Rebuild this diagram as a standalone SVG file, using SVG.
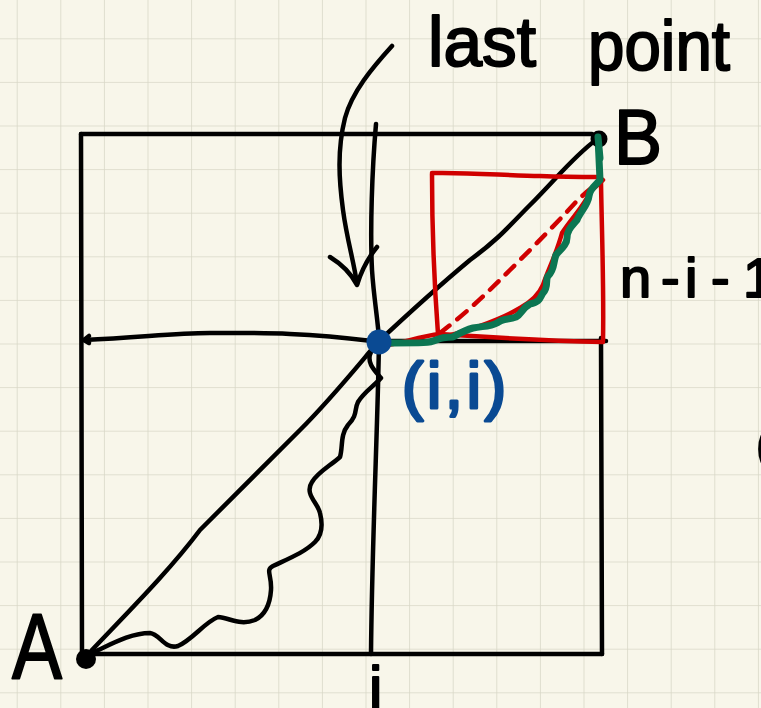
<svg xmlns="http://www.w3.org/2000/svg" width="761" height="708" viewBox="0 0 761 708">
<defs>
<pattern id="grid" x="16.7" y="38.3" width="43.6" height="43.6" patternUnits="userSpaceOnUse">
<path d="M0,0 H43.6 M0,0 V43.6" fill="none" stroke="#d9d7c7" stroke-width="1.6"/>
</pattern>
<style>
.ink{fill:none;stroke:#000;stroke-width:4.5;stroke-linecap:round;stroke-linejoin:round}
.red{fill:none;stroke:#d00000;stroke-width:4.5;stroke-linecap:round;stroke-linejoin:round}
.grn{fill:none;stroke:#0c7652;stroke-width:7;stroke-linecap:round;stroke-linejoin:round}
.hand{font-family:"Liberation Sans",Arial,sans-serif;fill:#000;stroke:#000;stroke-width:2;stroke-linejoin:round}
.blue{font-family:"Liberation Sans",Arial,sans-serif;fill:#0a4a93;stroke:#0a4a93;stroke-width:3;stroke-linejoin:round}
</style>
</defs>
<rect width="761" height="708" fill="#f8f6ea"/>
<rect width="761" height="708" fill="url(#grid)"/>

<g id="frame">
<path class="ink" d="M81,134 H592"/>
<path class="ink" d="M81,134 L82,658"/>
<path class="ink" d="M86,654 H602"/>
<path class="ink" d="M601,338 L602,654"/>
<path class="ink" d="M84,340 C140,338 170,333 210,333 C260,333 300,332 372,341"/>
<path class="ink" d="M89,336 L84,340 L89,343"/>
<path class="ink" d="M380,341 H606"/>
<path class="ink" d="M376,124 C372,170 370,230 372,270 C374,300 378,320 379,340 C378,420 372,540 371,654"/>
</g>

<g id="diagonal">
<path class="ink" d="M92,650 C130,610 170,570 200,530 C240,490 270,460 300,430 C330,400 350,375 378,342 C410,312 440,285 470,260 C500,238 510,225 530,205 C555,180 575,155 596,140"/>
</g>

<g id="wavy-black">
<path class="ink" stroke-width="4" d="M371,352 C366,362 374,370 381,378 C374,386 364,392 358,402 C354,410 358,415 348,425 C340,435 343,447 340,457 C330,466 318,472 312,482 C304,494 318,503 320,513 C323,525 322,535 315,542 C305,552 290,558 273,566 C265,570 272,575 271,590 C270,605 265,615 255,620 C240,626 230,618 218,617 C205,622 192,640 178,646 C165,650 160,634 150,633 C130,633 110,645 92,653"/>
</g>

<g id="red-box">
<path class="red" d="M432,173 C470,172 510,176 540,176 C565,177 585,177 600,177"/>
<path class="red" d="M601,182 C602,240 604,290 603,341"/>
<path class="red" d="M603,342 C560,341 500,338 440,334 C420,336 400,344 387,345"/>
<path class="red" d="M432,174 C432,230 434,280 438,334"/>
<path class="red" stroke-width="3" stroke-dasharray="12 10" d="M440,333 C470,310 490,290 510,270 C535,245 555,225 575,203 C585,193 592,187 600,182"/>
<path class="red" stroke-width="5" d="M440,338 C470,330 500,320 520,308 C535,300 540,292 543,285 C548,270 556,255 562,233 C570,220 585,205 590,192 C596,186 600,183 603,180"/>
</g>

<g id="green-path">
<path class="grn" d="M598,137 L600,180 C596,185 590,188 589,196 C588,205 580,212 577,220 C572,226 567,230 567,238 C567,245 560,250 556,255 C553,262 555,270 548,276 C545,280 549,287 543,293 C540,297 541,302 530,304 C522,308 522,314 516,317 C508,320 503,318 497,323 C490,327 482,326 473,328 C465,330 460,333 453,337 C446,337 440,338 436,340 C430,343 425,343 386,343"/>
</g>

<g id="dots">
<circle cx="599" cy="139" r="8.5" fill="#000"/>
<path class="grn" d="M598,137 L600,158"/>
<circle cx="86" cy="659" r="10" fill="#000"/>
<circle cx="379" cy="342" r="12.5" fill="#0a4a93"/>
</g>

<g id="arrow">
<path class="ink" d="M392,46 C372,68 352,92 345,118 C337,150 339,180 343,210 C347,240 354,262 357,284"/>
<path class="ink" d="M330,257 C343,265 352,275 357,285 C361,272 368,258 377,247"/>
</g>

<g id="labels">
<text class="hand" x="428" y="66" font-size="70" textLength="108" lengthAdjust="spacingAndGlyphs">last</text>
<text class="hand" x="588" y="70" font-size="70" textLength="142" lengthAdjust="spacingAndGlyphs">point</text>
<text class="hand" x="614" y="164" font-size="78" textLength="48" lengthAdjust="spacingAndGlyphs">B</text>
<text class="hand" x="12" y="679" font-size="92" textLength="50" lengthAdjust="spacingAndGlyphs">A</text>
<text class="hand" font-size="56" y="297"><tspan x="620">n</tspan><tspan x="661">-</tspan><tspan x="685">i</tspan><tspan x="711">-</tspan><tspan x="743">1</tspan></text>
<text class="blue" x="402" y="408" font-size="64" textLength="104" lengthAdjust="spacing">(i,i)</text>
<text class="hand" x="369" y="708" font-size="60">i</text>
<text class="hand" x="756" y="462" font-size="50">(</text>
</g>
</svg>
